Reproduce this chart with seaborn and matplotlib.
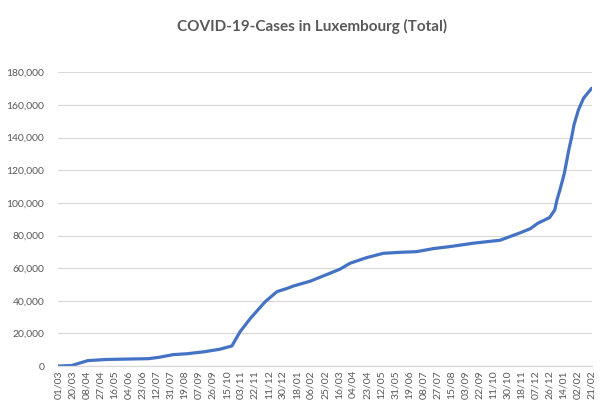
import matplotlib
matplotlib.use("Agg")
import matplotlib.pyplot as plt
import matplotlib.dates as mdates
import matplotlib.ticker as mticker
import seaborn as sns
import pandas as pd

dates = [
    "2020-03-01", "2020-03-19", "2020-04-10", "2020-05-05", "2020-07-01",
    "2020-07-15", "2020-08-04", "2020-08-22", "2020-09-14", "2020-10-06",
    "2020-10-22", "2020-11-02", "2020-11-16", "2020-12-06", "2020-12-22",
    "2021-01-05", "2021-01-13", "2021-02-05", "2021-02-27", "2021-03-17",
    "2021-03-31", "2021-04-22", "2021-05-15", "2021-06-07", "2021-06-29",
    "2021-07-22", "2021-08-13", "2021-09-14", "2021-10-20", "2021-11-17",
    "2021-11-30", "2021-12-10", "2021-12-26", "2022-01-02", "2022-01-05",
    "2022-01-09", "2022-01-15", "2022-01-21", "2022-01-25", "2022-01-28",
    "2022-02-03", "2022-02-10", "2022-02-21",
]
cases = [
    0, 300, 3300, 4000, 4500,
    5300, 7000, 7500, 8700, 10300,
    12300, 21000, 29200, 39400, 45600,
    47600, 49000, 52000, 56000, 59300,
    63000, 66400, 69100, 69700, 70100,
    72000, 73200, 75300, 77100, 81800,
    84200, 87500, 91000, 95700, 101800,
    108000, 118200, 132500, 140600, 147800,
    157000, 164200, 170300,
]
title = "COVID-19-Cases in Luxembourg (Total)"
y_ticks = [0, 20000, 40000, 60000, 80000, 100000, 120000, 140000, 160000, 180000]
tick_step_days = 19

df = pd.DataFrame({"date": pd.to_datetime(dates), "cases": cases})

sns.set_theme(style="white")
plt.rcParams["font.family"] = ["Lato", "DejaVu Sans"]

fig = plt.figure(figsize=(6.06, 4.11), dpi=100)
ax = fig.add_axes([58.3 / 606, 45 / 411, (591.7 - 58.3) / 606, (366 - 72.4) / 411])

sns.lineplot(data=df, x="date", y="cases", ax=ax, color="#4472C4", linewidth=2.3)

start = df["date"].iloc[0]
end = df["date"].iloc[-1]
ax.set_xlim(start, end)
ax.set_ylim(0, 180000)

xt = pd.date_range(start, end, freq=f"{tick_step_days}D")
ax.set_xticks(xt)
ax.xaxis.set_major_formatter(mdates.DateFormatter("%d/%m"))
ax.set_yticks(y_ticks)
ax.yaxis.set_major_formatter(mticker.FuncFormatter(lambda v, p: f"{int(v):,}"))

ax.tick_params(axis="x", labelrotation=90, labelsize=7.5, colors="#595959", length=0, pad=3)
ax.tick_params(axis="y", labelsize=7.5, colors="#595959", length=0, pad=10)

ax.grid(axis="y", color="#D9D9D9", linewidth=0.9)
ax.grid(axis="x", visible=False)
for s in ["top", "right", "left"]:
    ax.spines[s].set_visible(False)
ax.spines["bottom"].set_color("#D9D9D9")
ax.spines["bottom"].set_linewidth(0.9)
ax.set_xlabel("")
ax.set_ylabel("")

fig.text(0.515, 1 - 26 / 411, title, ha="center", va="center",
         fontsize=11, fontweight="bold", color="#595959")

fig.savefig("out.png", dpi=100, facecolor="white")
